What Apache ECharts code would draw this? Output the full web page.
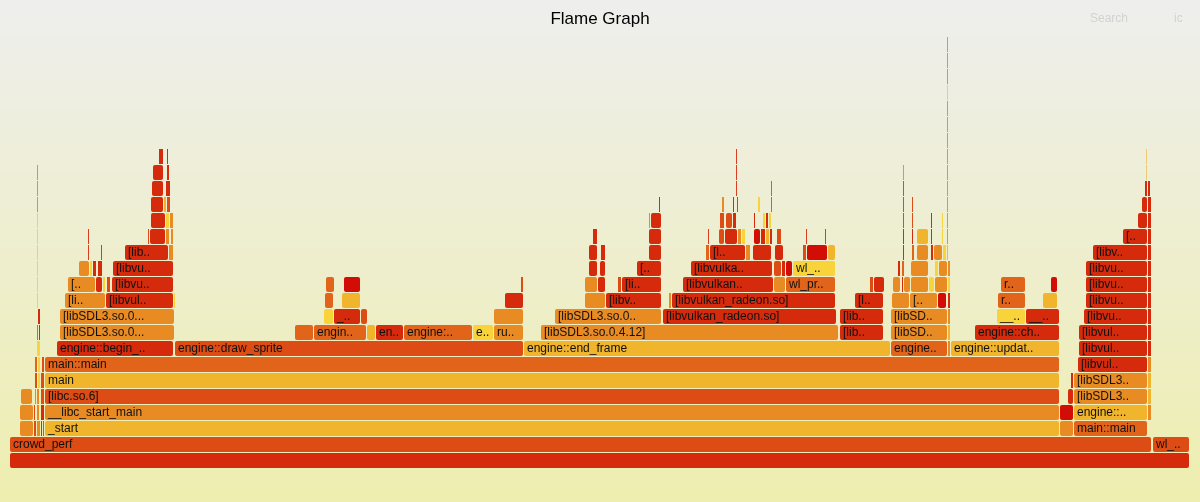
<!DOCTYPE html>
<html>
<head>
<meta charset="utf-8">
<script src="https://cdn.jsdelivr.net/npm/echarts@6/dist/echarts.min.js"></script>
<style>
  html, body { margin: 0; padding: 0; }
  #chart { width: 1200px; height: 502px; background: linear-gradient(#eeeeee, #eeeeb0); }
</style>
</head>
<body>
<div id="chart"></div>
<script>
// ---- DATA: frames per stack depth as [startSample, endSample, name, heatTone] ----
const totalSamples = 1180;
const maxDepth = 27;
const level0 = [[0,1180,'','r']];
const level1 = [[0,1142,'crowd_perf','a'],[1143,1180,'wl_..','a']];
const level2 = [[10,24,'','g'],[24,27,'','a'],[27,31,'','g'],[31,33,'','r'],[33,35,'','a'],[35,1050,'_start','y'],[1050,1064,'','g'],[1064,1138,'main::main','o']];
const level3 = [[10,24,'','g'],[24,26,'','a'],[27,30,'','g'],[31,35,'','r'],[35,1050,'__libc_start_main','g'],[1050,1064,'','R'],[1064,1138,'engine::..','y'],[1138,1142,'','g']];
const level4 = [[11,23,'','g'],[25,27,'','g'],[27,30,'','g'],[31,35,'','a'],[35,1050,'[libc.so.6]','a'],[1058,1064,'','r'],[1064,1138,'[libSDL3..','g'],[1138,1142,'','y']];
const level5 = [[25,28,'','a'],[28,31,'','Y'],[31,35,'','a'],[35,1050,'main','y'],[1061,1064,'','r'],[1064,1138,'[libSDL3..','g'],[1138,1142,'','y']];
const level6 = [[25,28,'','o'],[28,31,'','Y'],[32,35,'','a'],[35,1050,'main::main','o'],[1068,1138,'[libvul..','r'],[1138,1142,'','g']];
const level7 = [[27,31,'','Y'],[47,164,'engine::begin_..','r'],[165,514,'engine::draw_sprite','a'],[514,881,'engine::end_frame','y'],[881,938,'engine..','o'],[938,941,'','g'],[941,1050,'engine::updat..','y'],[1069,1138,'[libvul..','r'],[1138,1142,'','r']];
const level8 = [[27,29,'','o'],[29,31,'','r'],[50,165,'[libSDL3.so.0...','g'],[285,304,'','o'],[304,357,'engin..','o'],[357,366,'','y'],[366,394,'en..','r'],[394,463,'engine:..','o'],[463,484,'e..','Y'],[484,514,'ru..','g'],[531,829,'[libSDL3.so.0.4.12]','g'],[830,874,'[lib..','r'],[881,938,'[libSD..','g'],[938,941,'','y'],[965,1050,'engine::ch..','r'],[1069,1138,'[libvul..','r'],[1138,1142,'','r']];
const level9 = [[28,31,'','r'],[50,165,'[libSDL3.so.0...','g'],[314,324,'','Y'],[324,351,'_..','r'],[351,358,'','a'],[484,514,'','g'],[545,652,'[libSDL3.so.0..','g'],[653,827,'[libvulkan_radeon.so]','r'],[830,874,'[lib..','r'],[881,938,'[libSD..','g'],[938,941,'','g'],[987,1016,'__..','Y'],[1016,1050,'__..','r'],[1074,1138,'[libvu..','r'],[1138,1142,'','r']];
const level10 = [[27,29,'','Y'],[55,96,'[li..','g'],[96,164,'[libvul..','r'],[164,166,'','Y'],[315,324,'','o'],[332,351,'','y'],[495,514,'','r'],[575,596,'','g'],[596,652,'[libv..','r'],[659,662,'','g'],[662,826,'[libvulkan_radeon.so]','r'],[845,874,'[l..','r'],[882,900,'','g'],[900,928,'[..','g'],[928,937,'','R'],[938,941,'','r'],[988,1016,'r..','o'],[1033,1048,'','y'],[1076,1138,'[libvu..','r'],[1138,1142,'','r']];
const level11 = [[27,29,'','Y'],[58,86,'[..','g'],[86,93,'','r'],[93,96,'','Y'],[97,101,'','a'],[102,164,'[libvu..','r'],[316,325,'','o'],[334,351,'','R'],[511,514,'','a'],[575,588,'','g'],[588,596,'','r'],[608,612,'','a'],[612,652,'[li..','r'],[673,764,'[libvulkan..','r'],[764,776,'','g'],[776,826,'wl_pr..','o'],[860,864,'','a'],[864,875,'','r'],[883,891,'','g'],[892,894,'','r'],[894,901,'','g'],[901,919,'','g'],[919,925,'','Y'],[925,938,'','g'],[938,941,'','Y'],[991,1016,'r..','o'],[1041,1048,'','R'],[1076,1138,'[libvu..','r'],[1138,1142,'','r']];
const level12 = [[27,29,'','Y'],[69,80,'','g'],[80,83,'','Y'],[83,87,'','r'],[88,93,'','r'],[103,164,'[libvu..','r'],[579,588,'','r'],[590,596,'','r'],[627,652,'[..','r'],[681,763,'[libvulka..','r'],[764,772,'','a'],[772,776,'','r'],[776,783,'','R'],[783,826,'wl_..','Y'],[888,891,'','r'],[892,895,'','o'],[901,919,'','g'],[925,929,'','Y'],[929,938,'','g'],[938,941,'','g'],[1076,1138,'[libvu..','r'],[1138,1142,'','r']];
const level13 = [[27,28.6,'','Y'],[78,79.5,'','r'],[91,92.5,'','r'],[115,159,'[lib..','r'],[159,164,'','g'],[579,588,'','r'],[591,596,'','r'],[639,652,'','r'],[696,700,'','o'],[700,736,'[l..','r'],[736,741,'','g'],[743,762,'','r'],[765,774,'','r'],[793,797,'','a'],[797,818,'','R'],[818,826,'','y'],[893,895,'','r'],[902,905,'','o'],[907,919,'','g'],[921,924,'','r'],[924,933,'','g'],[933,937,'','Y'],[937,938,'','g'],[1083,1138,'[libv..','r'],[1138,1142,'','r']];
const level14 = [[27,28.6,'','Y'],[78,79.5,'','r'],[138,140,'','a'],[140,156,'','r'],[156,160,'','g'],[161,164,'','g'],[583,588,'','r'],[639,652,'','r'],[698,699.5,'','r'],[709,715,'','a'],[715,728,'','r'],[728,732,'','g'],[732,736,'','Y'],[744,751,'','R'],[751,756,'','r'],[756,760,'','y'],[760,763,'','r'],[767,772,'','a'],[796,797.5,'','r'],[815,816.5,'','r'],[893,895,'','r'],[902,904,'','r'],[907,919,'','y'],[921,923,'','r'],[932,934,'','Y'],[937,938,'','a'],[1113,1138,'[..','r'],[1138,1142,'','r']];
const level15 = [[27,28.6,'','Y'],[141,156,'','r'],[156,160,'','Y'],[160,164,'','g'],[639,641,'','g'],[641,652,'','r'],[710,715,'','a'],[716,723,'','a'],[723,727,'','r'],[744,746,'','r'],[753,756,'','Y'],[756,759,'','r'],[759,762,'','Y'],[893,895,'','a'],[902,904,'','a'],[921,923,'','r'],[932,934,'','Y'],[937,938,'','a'],[1128,1138,'','r'],[1138,1142,'','r']];
const level16 = [[27,28.6,'','g'],[141,154,'','r'],[154,157,'','y'],[157,161,'','a'],[649,651,'','r'],[712,715,'','g'],[723,725,'','r'],[727,728.5,'','r'],[748,751,'','Y'],[761,762.5,'','a'],[893,895,'','a'],[902,904,'','a'],[937,938,'','a'],[1132,1138,'','r'],[1138,1142,'','r']];
const level17 = [[27,28.6,'','g'],[142,154,'','r'],[156,161,'','r'],[726,727.5,'','r'],[761,762.5,'','a'],[893,895,'','a'],[937,938,'','a'],[1135,1138,'','r'],[1138,1141,'','r']];
const level18 = [[27,28.6,'','g'],[143,154,'','r'],[157,160,'','r'],[726,727.5,'','r'],[893,894.5,'','g'],[937,938,'','a'],[1136,1137,'','y']];
const level19 = [[149,154,'','r'],[157,159,'','r'],[726,727.5,'','r'],[937,938,'','a'],[1136,1137,'','y']];
const level20 = [[937,938,'','a']];
const level21 = [[937,938,'','a']];
const level22 = [[937,938,'','a']];
const level23 = [[937,938,'','y']];
const level24 = [[937,938,'','a']];
const level25 = [[937,938,'','a']];
const level26 = [[937,938,'','a']];
const stackLevels = [level0,level1,level2,level3,level4,level5,level6,level7,level8,level9,level10,level11,level12,level13,level14,level15,level16,level17,level18,level19,level20,level21,level22,level23,level24,level25,level26];

// ---- rendering ----
const toneColor = { r:'#d52a0b', R:'#d10d05', a:'#dc4c14', o:'#e2641b', g:'#e98b23', y:'#f1b42d', Y:'#f8d43a' };
const frames = [];
stackLevels.forEach((lv, depth) => lv.forEach(f => frames.push({ depth, start: f[0], end: f[1], name: f[2], tone: f[3] })));

const chart = echarts.init(document.getElementById('chart'), null, { renderer: 'canvas' });

function renderItem(params, api) {
  const f = frames[params.dataIndex];
  const p0 = api.coord([api.value(1), api.value(0) + 1]);
  const p1 = api.coord([api.value(2), api.value(0)]);
  const wRaw = p1[0] - p0[0];
  const w = wRaw >= 2 ? wRaw - 1 : wRaw * 0.6;
  const h = (p1[1] - p0[1]) - 1;
  const el = {
    type: 'rect',
    shape: { x: p0[0], y: p0[1], width: w, height: h, r: w > 4 ? 2 : 0 },
    style: { fill: toneColor[f.tone] }
  };
  if (f.name) {
    el.textContent = {
      style: {
        text: f.name, fill: '#111',
        font: '12px "Liberation Sans", Arial, sans-serif',
        overflow: 'truncate', width: w, ellipsis: '..'
      }
    };
    el.textConfig = { position: 'insideLeft', distance: 3 };
  }
  return el;
}

chart.setOption({
  backgroundColor: 'transparent',
  animation: false,
  title: {
    text: 'Flame Graph', left: 'center', top: 6,
    textStyle: { fontSize: 17, fontWeight: 'normal', color: '#000', fontFamily: '"Liberation Sans", Arial, sans-serif' }
  },
  graphic: [
    { type: 'text', left: 1090, top: 13, style: { text: 'Search', fill: '#d2d2d2', font: '12px "Liberation Sans", Arial, sans-serif' } },
    { type: 'text', left: 1174, top: 13, style: { text: 'ic', fill: '#d2d2d2', font: '12px "Liberation Sans", Arial, sans-serif' } }
  ],
  grid: { left: 10, right: 10, top: 37, bottom: 33 },
  xAxis: { type: 'value', min: 0, max: totalSamples, show: false },
  yAxis: { type: 'value', min: 0, max: maxDepth, show: false },
  series: [{
    type: 'custom',
    renderItem,
    encode: { x: [1, 2], y: 0 },
    data: frames.map(f => [f.depth, f.start, f.end])
  }]
});
</script>
</body>
</html>
